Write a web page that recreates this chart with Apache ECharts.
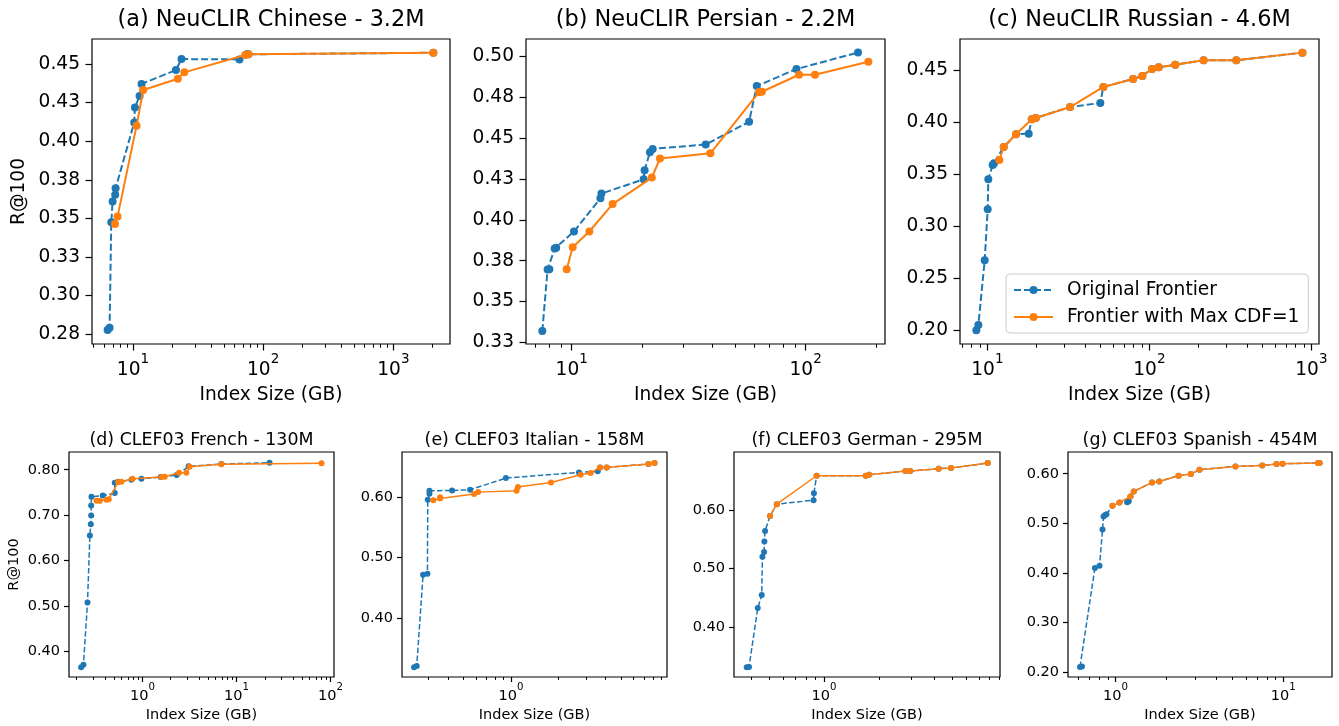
<!DOCTYPE html>
<html><head><meta charset="utf-8">
<script src="https://cdn.jsdelivr.net/npm/echarts@6/dist/echarts.min.js"></script>
<style>html,body{margin:0;padding:0;background:#fff}#c{width:1339px;height:726px}</style>
</head><body><div id="c"></div>
<script>
// ---------------- DATA ----------------
const seriesNames = ['Original Frontier', 'Frontier with Max CDF=1'];
const titles = ['(a) NeuCLIR Chinese - 3.2M','(b) NeuCLIR Persian - 2.2M','(c) NeuCLIR Russian - 4.6M',
  '(d) CLEF03 French - 130M','(e) CLEF03 Italian - 158M','(f) CLEF03 German - 295M','(g) CLEF03 Spanish - 454M'];
const xName = 'Index Size (GB)';
const yName = 'R@100';

// (a) Chinese
const zhOrigX = [6.39, 6.62, 6.82, 6.98, 7.31, 7.36, 10.24, 10.36, 11.25, 11.65, 21.4, 23.6, 65.8, 74.9, 77.1, 2028];
const zhOrigY = [0.2778, 0.2793, 0.3475, 0.3609, 0.3654, 0.3695, 0.4122, 0.4219, 0.4293, 0.4371, 0.4461, 0.4532, 0.4530, 0.4563, 0.4563, 0.4573];
const zhMaxX = [7.28, 7.62, 10.67, 12.0, 22.1, 24.8, 72.8, 77.1, 2028];
const zhMaxY = [0.3464, 0.3512, 0.4101, 0.4332, 0.4405, 0.4446, 0.4558, 0.4563, 0.4573];
// (b) Persian
const faOrigX = [7.49, 7.89, 8.03, 8.46, 8.59, 10.23, 13.27, 13.4, 20.3, 20.5, 21.6, 22.2, 37.4, 57.3, 61.8, 91.3, 167.4];
const faOrigY = [0.3319, 0.3696, 0.3698, 0.3825, 0.3829, 0.3929, 0.4132, 0.4161, 0.4249, 0.4304, 0.4415, 0.4435, 0.4462, 0.4601, 0.4820, 0.4924, 0.5025];
const faMaxX = [9.52, 10.1, 11.9, 14.96, 22.0, 23.85, 39.15, 63.2, 65.0, 93.7, 109.6, 185.3];
const faMaxY = [0.3698, 0.3833, 0.3929, 0.4097, 0.4259, 0.4376, 0.4408, 0.4783, 0.4785, 0.4889, 0.4889, 0.4969];
// (c) Russian
const ruOrigX = [8.55, 8.80, 9.63, 10.05, 10.14, 10.79, 11.0, 12.62, 15.03, 18.0, 18.8, 19.9, 32.4, 49.8, 52.0, 79.3, 90.5, 103.8, 114.2, 144.5, 216.2, 344, 880];
const ruOrigY = [0.2000, 0.2051, 0.2673, 0.3164, 0.3452, 0.3590, 0.3606, 0.3763, 0.3885, 0.3891, 0.4029, 0.4042, 0.4147, 0.4186, 0.4340, 0.4417, 0.4446, 0.4513, 0.4529, 0.4554, 0.4596, 0.4596, 0.4670];
const ruMaxX = [11.86, 12.62, 15.03, 18.8, 19.9, 32.4, 52.0, 79.3, 90.5, 103.8, 114.2, 144.5, 216.2, 344, 880];
const ruMaxY = [0.3638, 0.3763, 0.3885, 0.4029, 0.4042, 0.4147, 0.4340, 0.4417, 0.4446, 0.4513, 0.4529, 0.4554, 0.4596, 0.4596, 0.4670];
// (d) French
const frOrigX = [0.223, 0.236, 0.2606, 0.276, 0.2827, 0.285, 0.285, 0.287, 0.379, 0.508, 0.508, 0.552, 0.764, 0.976, 1.565, 2.315, 3.10, 6.90, 22.5];
const frOrigY = [0.3656, 0.3715, 0.5082, 0.6552, 0.6802, 0.6993, 0.7214, 0.7405, 0.7434, 0.7486, 0.7713, 0.7735, 0.7780, 0.7802, 0.7838, 0.7882, 0.8074, 0.8125, 0.8154];
const frMaxX = [0.3248, 0.352, 0.415, 0.439, 0.552, 0.598, 0.783, 1.59, 1.726, 2.45, 2.93, 3.18, 6.9, 80.2];
const frMaxY = [0.7316, 0.7316, 0.7338, 0.7353, 0.7728, 0.7735, 0.7802, 0.7838, 0.7846, 0.7934, 0.7934, 0.8066, 0.8118, 0.8140];
// (e) Italian
const itOrigX = [0.2428, 0.2524, 0.277, 0.2951, 0.2965, 0.304, 0.304, 0.4236, 0.5512, 0.929, 2.707, 3.56, 3.68, 4.06, 7.47, 8.16];
const itOrigY = [0.318, 0.3202, 0.4715, 0.4731, 0.5956, 0.6055, 0.6105, 0.6111, 0.6122, 0.6316, 0.6410, 0.6427, 0.6493, 0.6493, 0.6548, 0.6565];
const itMaxX = [0.322, 0.3553, 0.3553, 0.5844, 0.620, 1.087, 1.108, 1.796, 2.774, 3.21, 3.68, 4.06, 7.47, 8.16];
const itMaxY = [0.595, 0.5978, 0.600, 0.605, 0.6083, 0.6105, 0.6166, 0.6244, 0.6371, 0.6399, 0.6493, 0.6493, 0.6548, 0.6565];
// (f) German
const deOrigX = [0.379, 0.390, 0.4353, 0.4576, 0.4616, 0.4713, 0.4733, 0.4773, 0.5083, 0.553, 0.878, 0.882, 0.912, 1.69, 1.764, 2.788, 2.957, 4.227, 4.936, 7.84];
const deOrigY = [0.3316, 0.3322, 0.4325, 0.4547, 0.5202, 0.5282, 0.5459, 0.5641, 0.5897, 0.6097, 0.6165, 0.6285, 0.6581, 0.6581, 0.6598, 0.6661, 0.6661, 0.6701, 0.6712, 0.6798];
const deMaxX = [0.5083, 0.553, 0.912, 1.69, 1.764, 2.788, 2.957, 4.227, 4.936, 7.84];
const deMaxY = [0.5897, 0.6097, 0.6581, 0.6581, 0.6598, 0.6661, 0.6661, 0.6701, 0.6712, 0.6798];
// (g) Spanish
const esOrigX = [0.614, 0.631, 0.754, 0.8035, 0.837, 0.8486, 0.864, 0.884, 0.960, 1.056, 1.173, 1.20, 1.228, 1.285, 1.652, 1.825, 2.378, 2.816, 3.17, 5.19, 7.5, 9.13, 9.91, 16.14, 16.5];
const esOrigY = [0.2108, 0.2115, 0.4101, 0.4148, 0.4875, 0.5138, 0.5165, 0.5185, 0.5354, 0.5421, 0.5428, 0.5448, 0.5542, 0.5643, 0.5825, 0.5845, 0.596, 0.5993, 0.6081, 0.6148, 0.6168, 0.6195, 0.6202, 0.6215, 0.6215];
const esMaxX = [0.960, 1.056, 1.228, 1.285, 1.652, 1.825, 2.378, 2.816, 3.17, 5.19, 7.5, 9.13, 9.91, 16.14, 16.5];
const esMaxY = [0.5354, 0.5421, 0.5542, 0.5643, 0.5825, 0.5845, 0.596, 0.5993, 0.6081, 0.6148, 0.6168, 0.6195, 0.6202, 0.6215, 0.6215];

// tick values
const xTicksA = [10, 100, 1000];
const xTicksB = [10, 100];
const xTicksC = [10, 100, 1000];
const xTicksD = [1, 10, 100];
const xTicksE = [1];
const xTicksF = [1];
const xTicksG = [1, 10];
const yTicksA = [0.275, 0.3, 0.325, 0.35, 0.375, 0.4, 0.425, 0.45];
const yTicksB = [0.325, 0.35, 0.375, 0.4, 0.425, 0.45, 0.475, 0.5];
const yTicksC = [0.2, 0.25, 0.3, 0.35, 0.4, 0.45];
const yTicksD = [0.4, 0.5, 0.6, 0.7, 0.8];
const yTicksE = [0.4, 0.5, 0.6];
const yTicksF = [0.4, 0.5, 0.6];
const yTicksG = [0.2, 0.3, 0.4, 0.5, 0.6];

// ---------------- LAYOUT / STYLE ----------------
const FONT = 'DejaVu Sans';
const BLUE = '#1f77b4', ORANGE = '#ff7f0e';
const panels = [
  {ox: zhOrigX, oy: zhOrigY, mx: zhMaxX, my: zhMaxY, xr: [4.85, 2723], yr: [0.2687, 0.4662], xt: xTicksA, yt: yTicksA, box: [92, 39, 358, 305], big: true, ylab: true},
  {ox: faOrigX, oy: faOrigY, mx: faMaxX, my: faMaxY, xr: [6.38, 218.3], yr: [0.3240, 0.5108], xt: xTicksB, yt: yTicksB, box: [526, 39, 359, 305], big: true},
  {ox: ruOrigX, oy: ruOrigY, mx: ruMaxX, my: ruMaxY, xr: [6.78, 1114], yr: [0.1869, 0.4801], xt: xTicksC, yt: yTicksC, box: [960, 39, 359, 305], big: true},
  {ox: frOrigX, oy: frOrigY, mx: frMaxX, my: frMaxY, xr: [0.1656, 109], yr: [0.3443, 0.839], xt: xTicksD, yt: yTicksD, box: [69, 452, 265, 225], big: false, ylab: true},
  {ox: itOrigX, oy: itOrigY, mx: itMaxX, my: itMaxY, xr: [0.2035, 9.8], yr: [0.3019, 0.6748], xt: xTicksE, yt: yTicksE, box: [402, 452, 265, 225], big: false},
  {ox: deOrigX, oy: deOrigY, mx: deMaxX, my: deMaxY, xr: [0.323, 9.14], yr: [0.3151, 0.6986], xt: xTicksF, yt: yTicksF, box: [734, 452, 266, 225], big: false},
  {ox: esOrigX, oy: esOrigY, mx: esMaxX, my: esMaxY, xr: [0.521, 19.55], yr: [0.1906, 0.6438], xt: xTicksG, yt: yTicksG, box: [1068, 452, 264, 225], big: false}
];

function minorTicks(lo, hi) {
  const out = [];
  for (let k = Math.floor(Math.log10(lo)) - 1; k <= Math.ceil(Math.log10(hi)); k++) {
    for (let m = 2; m <= 9; m++) {
      const v = m * Math.pow(10, k);
      if (v >= lo && v <= hi) out.push(v);
    }
  }
  return out;
}
const zip = (xs, ys) => xs.map((x, i) => [x, ys[i]]);
const yfmt = v => (Math.round(v * 100 + 1e-6) / 100).toFixed(2);

const grid = [], xAxis = [], yAxis = [], series = [], graphic = [];
panels.forEach((p, i) => {
  const big = p.big;
  const fs = big ? 18.6 : 14.5;
  const tfs = big ? 22.4 : 17.4;
  grid.push({left: p.box[0], top: p.box[1], width: p.box[2], height: p.box[3], show: true, borderColor: '#000', borderWidth: 1.2, backgroundColor: 'transparent'});
  xAxis.push({
    type: 'log', logBase: 10, gridIndex: i, position: 'bottom', min: p.xr[0], max: p.xr[1],
    axisLine: {show: false}, splitLine: {show: false},
    axisTick: {show: true, customValues: p.xt, length: big ? 6.5 : 5, lineStyle: {color: '#000', width: 1.2}},
    axisLabel: {
      customValues: p.xt, margin: big ? 8 : 5, color: '#000',
      formatter: v => '{b|10}{s|' + Math.round(Math.log10(v)) + '}',
      rich: {
        b: {fontSize: fs, fontFamily: FONT, color: '#000', lineHeight: big ? 28 : 21.5, verticalAlign: 'bottom'},
        s: {fontSize: big ? 13.5 : 10.2, fontFamily: FONT, color: '#000', verticalAlign: 'top'}
      }
    },
    name: xName, nameLocation: 'middle', nameGap: big ? 42 : 31,
    nameTextStyle: {fontSize: fs, fontFamily: FONT, color: '#000'}
  });
  xAxis.push({
    type: 'log', logBase: 10, gridIndex: i, position: 'bottom', offset: 0, min: p.xr[0], max: p.xr[1],
    axisLine: {show: false}, splitLine: {show: false}, axisLabel: {show: false},
    axisTick: {show: true, customValues: minorTicks(p.xr[0], p.xr[1]), length: big ? 3.7 : 2.9, lineStyle: {color: '#000', width: 1}}
  });
  yAxis.push({
    type: 'value', gridIndex: i, position: 'left', min: p.yr[0], max: p.yr[1],
    axisLine: {show: false}, splitLine: {show: false},
    axisTick: {show: true, customValues: p.yt, length: big ? 6.5 : 5, lineStyle: {color: '#000', width: 1.2}},
    axisLabel: {customValues: p.yt, formatter: yfmt, margin: big ? 12 : 9, fontSize: fs, fontFamily: FONT, color: '#000'},
    name: p.ylab ? yName : '', nameLocation: 'middle', nameRotate: 90, nameGap: big ? 63 : 47,
    nameTextStyle: {fontSize: fs, fontFamily: FONT, color: '#000'}
  });
  const lw = big ? 2 : 1.5;
  const ss = big ? 8 : 6;
  series.push({
    name: seriesNames[0], type: 'line', xAxisIndex: 2 * i, yAxisIndex: i, data: zip(p.ox, p.oy),
    symbol: 'circle', symbolSize: ss, showSymbol: true, animation: false,
    lineStyle: {color: BLUE, width: lw, type: big ? [7, 3] : [5.5, 2.4]}, itemStyle: {color: BLUE}, z: 2
  });
  series.push({
    name: seriesNames[1], type: 'line', xAxisIndex: 2 * i, yAxisIndex: i, data: zip(p.mx, p.my),
    symbol: 'circle', symbolSize: ss, showSymbol: true, animation: false,
    lineStyle: {color: ORANGE, width: lw, type: 'solid'}, itemStyle: {color: ORANGE}, z: 3
  });
  graphic.push({
    type: 'text', x: p.box[0] + p.box[2] / 2, y: big ? 20 : 440.5,
    style: {text: titles[i], fontSize: tfs, fontFamily: FONT, fill: '#000', textAlign: 'center', textVerticalAlign: 'middle'}
  });
});

const chart = echarts.init(document.getElementById('c'), null, {renderer: 'canvas'});
chart.setOption({
  backgroundColor: '#fff',
  animation: false,
  grid, xAxis, yAxis, series, graphic,
  legend: {
    data: seriesNames, orient: 'vertical', left: 1006, top: 274,
    itemWidth: 39, itemHeight: 10, itemGap: 7, padding: [6, 9, 6, 7],
    backgroundColor: 'rgba(255,255,255,0.8)', borderColor: '#cccccc', borderWidth: 1, borderRadius: 4,
    textStyle: {fontSize: 18.6, fontFamily: FONT, color: '#000', lineHeight: 20, padding: [0, 0, 0, 9]}
  }
});
</script>
</body></html>
